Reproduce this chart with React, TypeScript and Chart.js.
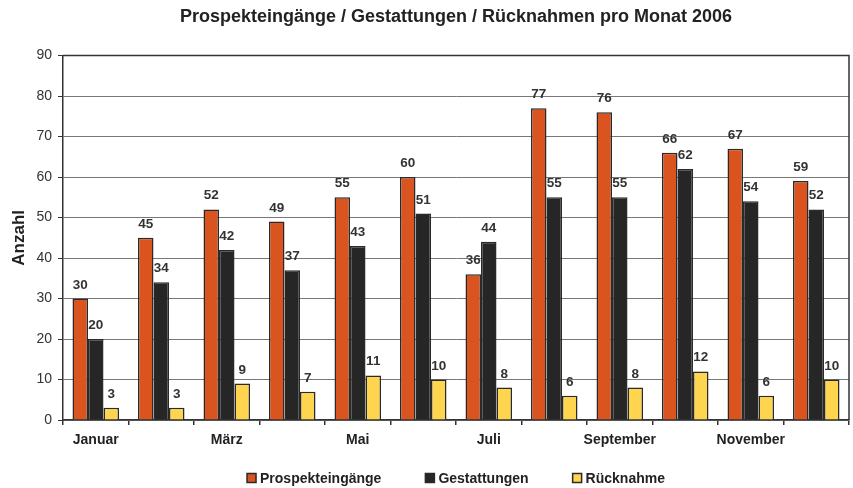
import React, { useEffect, useRef } from "react";
import { Chart, registerables } from "chart.js";

Chart.register(...registerables);

const months = ["Januar", "Februar", "März", "April", "Mai", "Juni", "Juli", "August", "September", "Oktober", "November", "Dezember"];
const prospekt = [30, 45, 52, 49, 55, 60, 36, 77, 76, 66, 67, 59];
const gestattungen = [20, 34, 42, 37, 43, 51, 44, 55, 55, 62, 54, 52];
const ruecknahme = [3, 3, 9, 7, 11, 10, 8, 6, 8, 12, 6, 10];
const seriesNames = ["Prospekteingänge", "Gestattungen", "Rücknahme"];
const seriesColors = ["#D9541E", "#262626", "#FFD54F"];
const yTicks = [0, 10, 20, 30, 40, 50, 60, 70, 80, 90];

const FONT = "'Liberation Sans', Arial, sans-serif";
const EDGE = "#2a2a2a";

const labelPlugin = {
  id: "labels",
  afterDatasetsDraw(chart: any) {
    const ctx = chart.ctx;
    ctx.save();
    ctx.font = `bold 13.5px ${FONT}`;
    ctx.fillStyle = "#333";
    ctx.textAlign = "center";
    ctx.textBaseline = "alphabetic";
    chart.data.datasets.forEach((ds: any, i: number) => {
      const meta = chart.getDatasetMeta(i);
      meta.data.forEach((bar: any, j: number) => {
        ctx.fillText(String(ds.data[j]), bar.x, bar.y - 10);
      });
    });
    ctx.restore();
  },
};

const framePlugin = {
  id: "frame",
  afterDraw(chart: any) {
    const { ctx, chartArea } = chart;
    ctx.save();
    ctx.strokeStyle = "#333";
    ctx.lineWidth = 1.5;
    ctx.beginPath();
    ctx.moveTo(chartArea.left, chartArea.top);
    ctx.lineTo(chartArea.right, chartArea.top);
    ctx.lineTo(chartArea.right, chartArea.bottom);
    ctx.stroke();
    ctx.restore();
  },
};

const legendPlugin = {
  id: "customLegend",
  afterDraw(chart: any) {
    const { ctx, chartArea } = chart;
    ctx.save();
    ctx.font = `bold 14px ${FONT}`;
    const box = 9;
    const textGap = 13;
    const itemGap = 44;
    const items = chart.data.datasets.map((ds: any) => ({
      label: ds.label,
      color: ds.backgroundColor,
      w: textGap + ctx.measureText(ds.label).width,
    }));
    const total = items.reduce((s: number, it: any) => s + it.w, 0) + itemGap * (items.length - 1);
    let x = (chartArea.left + chartArea.right) / 2 - total / 2;
    const yc = 478;
    ctx.textBaseline = "middle";
    ctx.textAlign = "left";
    items.forEach((it: any) => {
      ctx.fillStyle = it.color;
      ctx.fillRect(x, yc - box / 2, box, box);
      ctx.strokeStyle = EDGE;
      ctx.lineWidth = 1.5;
      ctx.strokeRect(x, yc - box / 2, box, box);
      ctx.fillStyle = "#222";
      ctx.fillText(it.label, x + textGap, yc + 1);
      x += it.w + itemGap;
    });
    ctx.restore();
  },
};

export default function App() {
  const ref = useRef<HTMLCanvasElement>(null);
  useEffect(() => {
    document.body.style.margin = "0";
    const chart = new Chart(ref.current!, {
      type: "bar",
      data: {
        labels: months,
        datasets: [
          { label: seriesNames[0], data: prospekt, backgroundColor: seriesColors[0], borderColor: EDGE, borderWidth: 1.5 },
          { label: seriesNames[1], data: gestattungen, backgroundColor: seriesColors[1], borderColor: EDGE, borderWidth: 1.5 },
          { label: seriesNames[2], data: ruecknahme, backgroundColor: seriesColors[2], borderColor: EDGE, borderWidth: 1.5 },
        ],
      },
      options: {
        responsive: false,
        animation: false,
        datasets: { bar: { categoryPercentage: 0.71, barPercentage: 1.0 } },
        layout: { padding: { left: 0, right: 4, top: 0, bottom: 28 } },
        plugins: {
          title: {
            display: true,
            fullSize: false,
            text: "Prospekteingänge / Gestattungen / Rücknahmen pro Monat 2006",
            font: { family: FONT, size: 18, weight: "bold" },
            color: "#222",
            padding: { top: 6, bottom: 28 },
          },
          legend: { display: false },
          tooltip: { enabled: false },
        },
        scales: {
          x: {
            afterFit: (scale: any) => {
              scale.height = 40;
            },
            grid: { display: true, drawOnChartArea: false, offset: true, tickLength: 5, color: "#333", lineWidth: 1.5 },
            border: { color: "#333", width: 1.5 },
            ticks: {
              autoSkip: false,
              maxRotation: 0,
              padding: 7,
              font: { family: FONT, size: 14, weight: "bold" },
              color: "#222",
              callback: (_v: any, i: number) => (i % 2 === 0 ? months[i] : ""),
            },
          },
          y: {
            min: 0,
            max: 90,
            afterBuildTicks: (scale: any) => {
              scale.ticks = yTicks.map((v) => ({ value: v }));
            },
            afterFit: (scale: any) => {
              scale.width = 63;
            },
            grid: { color: "#777", lineWidth: 1, tickLength: 5, tickColor: "#333" },
            border: { color: "#333", width: 1.5 },
            ticks: { font: { family: FONT, size: 14 }, color: "#333", padding: 6 },
            title: {
              display: true,
              text: "Anzahl",
              font: { family: FONT, size: 17, weight: "bold" },
              color: "#222",
              padding: { top: 9, bottom: 0 },
            },
          },
        },
      },
      plugins: [labelPlugin, framePlugin, legendPlugin],
    } as any);
    return () => chart.destroy();
  }, []);
  return (
    <div style={{ width: 853, height: 488 }}>
      <canvas ref={ref} width={853} height={488} />
    </div>
  );
}
